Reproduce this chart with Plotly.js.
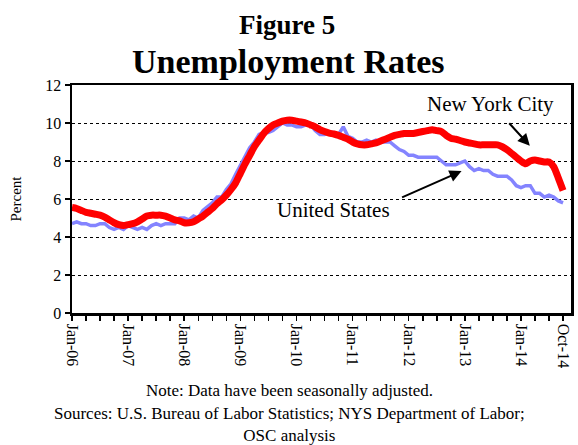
<!DOCTYPE html>
<html>
<head>
<meta charset="utf-8">
<script src="https://cdn.plot.ly/plotly-3.0.1.min.js"></script>
<style>
  body { margin: 0; padding: 0; background: #fff; }
  #plot { width: 578px; height: 445px; }
</style>
</head>
<body>
<div id="plot"></div>
<script>
// monthly, Jan-06 .. Oct-14
var usRate = [
  4.7, 4.8, 4.7, 4.7, 4.6, 4.6, 4.7, 4.7, 4.5, 4.4, 4.5, 4.4,
  4.6, 4.5, 4.4, 4.5, 4.4, 4.6, 4.7, 4.6, 4.7, 4.7, 4.7, 5.0,
  5.0, 4.9, 5.1, 5.0, 5.4, 5.6, 5.8, 6.1, 6.1, 6.5, 6.8, 7.3,
  7.8, 8.3, 8.7, 9.0, 9.4, 9.5, 9.5, 9.6, 9.8, 10.0, 9.9, 9.9,
  9.8, 9.8, 9.9, 9.9, 9.6, 9.4, 9.4, 9.5, 9.5, 9.4, 9.8, 9.3,
  9.2, 9.0, 9.0, 9.1, 9.0, 9.1, 9.0, 9.0, 9.0, 8.8, 8.6, 8.5,
  8.3, 8.3, 8.2, 8.2, 8.2, 8.2, 8.2, 8.0, 7.8, 7.8, 7.8, 7.9,
  8.0, 7.7, 7.5, 7.6, 7.5, 7.5, 7.3, 7.2, 7.2, 7.2, 7.0, 6.7,
  6.6, 6.7, 6.7, 6.3, 6.3, 6.1, 6.2, 6.1, 5.9, 5.8
];
var nycRate = [
  5.55, 5.5, 5.4, 5.3, 5.25, 5.2, 5.15, 5.05, 4.9, 4.75, 4.65, 4.6,
  4.65, 4.7, 4.8, 4.95, 5.1, 5.15, 5.15, 5.15, 5.1, 5.0, 4.9, 4.85,
  4.75, 4.75, 4.8, 4.95, 5.1, 5.3, 5.5, 5.75, 5.95, 6.2, 6.5, 6.85,
  7.35, 7.85, 8.3, 8.75, 9.1, 9.45, 9.7, 9.9, 10.0, 10.1, 10.15, 10.15,
  10.1, 10.05, 10.0, 9.9, 9.8, 9.65, 9.55, 9.47, 9.42, 9.35, 9.25, 9.15,
  9.0, 8.9, 8.85, 8.85, 8.9, 8.95, 9.05, 9.15, 9.25, 9.35, 9.4, 9.45,
  9.45, 9.45, 9.5, 9.55, 9.6, 9.65, 9.6, 9.55, 9.35, 9.2, 9.15, 9.08,
  9.0, 8.95, 8.9, 8.85, 8.85, 8.85, 8.85, 8.85, 8.75, 8.6, 8.4, 8.2,
  8.0, 7.85, 8.0, 8.05, 8.0, 7.95, 7.95, 7.7, 7.1, 6.45
];
var tickPos = [0, 12, 24, 36, 48, 60, 72, 84, 96, 105];
var tickLabels = ['Jan-06', 'Jan-07', 'Jan-08', 'Jan-09', 'Jan-10', 'Jan-11', 'Jan-12', 'Jan-13', 'Jan-14', 'Oct-14'];

var months = [];
for (var i = 0; i < usRate.length; i++) months.push(i);
var quarterTicks = [];
for (var q = 0; q <= 105; q += 3) quarterTicks.push(q);

var serif = '"Liberation Serif", "Times New Roman", serif';

var traceUS = {
  x: months, y: usRate, type: 'scatter', mode: 'lines', name: 'United States',
  line: { color: '#8484ff', width: 3.5 }
};
var traceNYC = {
  x: months, y: nycRate, type: 'scatter', mode: 'lines', name: 'New York City',
  line: { color: '#ff0000', width: 7, shape: 'spline', smoothing: 0.6 }
};

var layout = {
  width: 578, height: 445,
  margin: { l: 72, r: 7, t: 85, b: 132 },
  paper_bgcolor: '#fff', plot_bgcolor: '#fff',
  showlegend: false,
  font: { family: serif, size: 15, color: '#000' },
  xaxis: {
    range: [0, 106.7],
    tickmode: 'array', tickvals: tickPos, ticktext: tickLabels,
    tickangle: 90, ticks: 'outside', ticklen: 5, tickwidth: 1.5, tickcolor: '#000',
    minor: { tickmode: 'array', tickvals: quarterTicks, ticks: 'outside', ticklen: 5, tickwidth: 1.5, tickcolor: '#000', showgrid: false },
    showgrid: false, zeroline: false,
    showline: true, linecolor: '#000', linewidth: 2.5, mirror: true,
    tickfont: { family: serif, size: 16 }
  },
  yaxis: {
    range: [0, 12], dtick: 2,
    ticks: 'outside', ticklen: 5, tickwidth: 1.5, tickcolor: '#000',
    showgrid: true, gridcolor: '#000', gridwidth: 1, griddash: 'dot',
    zeroline: false,
    showline: true, linecolor: '#000', linewidth: 2.5, mirror: true,
    tickfont: { family: serif, size: 16 },
    title: { text: 'Percent', font: { family: serif, size: 15 }, standoff: 20 }
  },
  annotations: [
    { text: '<b>Figure 5</b>', xref: 'paper', yref: 'paper', x: 0.43, y: 1.262,
      showarrow: false, font: { family: serif, size: 27 }, xanchor: 'center', yanchor: 'middle' },
    { text: '<b>Unemployment Rates</b>', xref: 'paper', yref: 'paper', x: 0.434, y: 1.105,
      showarrow: false, font: { family: serif, size: 34 }, xanchor: 'center', yanchor: 'middle' },
    { text: 'New York City', x: 89.4, y: 11.0, showarrow: false,
      font: { family: serif, size: 21 }, xanchor: 'center', yanchor: 'middle' },
    { text: 'United States', x: 56, y: 5.4, showarrow: false,
      font: { family: serif, size: 21 }, xanchor: 'center', yanchor: 'middle' },
    { text: '', x: 97.9, y: 8.8, showarrow: true, ax: -22, ay: -24,
      arrowhead: 2, arrowsize: 1.2, arrowwidth: 2, arrowcolor: '#000' },
    { text: '', x: 83.3, y: 7.47, showarrow: true, ax: -61, ay: 27,
      arrowhead: 2, arrowsize: 1.2, arrowwidth: 2, arrowcolor: '#000' },
    { text: 'Note: Data have been seasonally adjusted.', xref: 'paper', yref: 'paper',
      x: 0.435, y: -0.342, showarrow: false, font: { family: serif, size: 17 },
      xanchor: 'center', yanchor: 'middle' },
    { text: 'Sources: U.S. Bureau of Labor Statistics; NYS Department of Labor;<br>OSC analysis',
      xref: 'paper', yref: 'paper', x: 0.435, y: -0.487, showarrow: false,
      font: { family: serif, size: 17 }, xanchor: 'center', yanchor: 'middle' }
  ]
};

Plotly.newPlot('plot', [traceUS, traceNYC], layout, { displayModeBar: false, staticPlot: true });
</script>
</body>
</html>
